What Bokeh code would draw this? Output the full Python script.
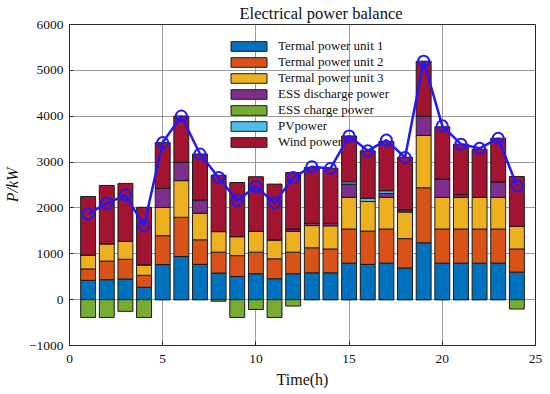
from bokeh.plotting import figure
from bokeh.models import ColumnDataSource, Range1d, FixedTicker, Legend, LegendItem
from bokeh.embed import file_html
from bokeh.resources import INLINE

hours = list(range(1, 25))
thermal1 = [420, 435, 450, 270, 765, 940, 770, 580, 505, 565, 455, 565,
            585, 585, 795, 770, 795, 690, 1240, 795, 795, 795, 795, 600]
thermal2 = [250, 405, 430, 260, 630, 855, 535, 455, 455, 470, 435, 470,
            545, 520, 745, 725, 745, 640, 1200, 745, 745, 745, 745, 505]
thermal3 = [300, 380, 390, 230, 615, 800, 580, 450, 415, 455, 415, 455,
            485, 505, 690, 645, 690, 580, 1140, 690, 690, 690, 690, 495]
ess_discharge = [0, 0, 0, 0, 415, 400, 290, 0, 0, 0, 0, 50,
                 50, 50, 290, 0, 85, 50, 420, 400, 60, 0, 340, 0]
ess_charge = [-390, -390, -255, -390, 0, 0, 0, -35, -390, -215, -390, -140,
              0, 0, 0, 0, 0, 0, 0, 0, 0, 0, 0, -205]
pv_power = [0, 0, 0, 0, 0, 0, 0, 0, 0, 0, 0, 0,
            0, 0, 50, 70, 60, 0, 0, 0, 0, 0, 0, 0]
wind_power = [1280, 1270, 1265, 1255, 1000, 1010, 1000, 1230, 1180, 1190, 1215, 1230,
              1220, 1205, 1000, 1035, 1075, 1145, 1200, 1140, 1100, 1050, 950, 1085]
load = [1870, 2100, 2280, 1615, 3425, 4005, 3175, 2665, 2160, 2465, 2110, 2665,
        2900, 2860, 3570, 3245, 3480, 3100, 5200, 3790, 3390, 3300, 3520, 2485]

names = ["Termal power unit 1", "Termal power unit 2", "Termal power unit 3",
         "ESS discharge power", "ESS charge power", "PVpower", "Wind power"]
colors = ["#0072BD", "#D95319", "#EDB120", "#7E2F8E", "#77AC30", "#4DBEEE", "#A2142F"]
x_ticks = [0, 5, 10, 15, 20, 25]
y_ticks = [-1000, 0, 1000, 2000, 3000, 4000, 5000, 6000]

FONT = "Times New Roman"

src = ColumnDataSource(dict(hour=hours, t1=thermal1, t2=thermal2, t3=thermal3,
                            dis=ess_discharge, chg=ess_charge, pv=pv_power,
                            wind=wind_power, load=load))

p = figure(width=550, height=394, output_backend="svg", toolbar_location=None,
           x_range=Range1d(0, 25), y_range=Range1d(-1000, 6000),
           min_border_left=68, min_border_right=15, min_border_top=23, min_border_bottom=49)

edge = "#1a1a1a"
stack_rs = p.vbar_stack(["t1", "t2", "t3", "dis", "pv", "wind"], x="hour", width=0.8,
                        source=src,
                        fill_color=[colors[0], colors[1], colors[2], colors[3], colors[5], colors[6]],
                        line_color=edge, line_width=1)
chg_r = p.vbar(x="hour", top="chg", bottom=0, width=0.8, source=src,
               fill_color=colors[4], line_color=edge, line_width=1)

line_col = "#2418F8"
p.line("hour", "load", source=src, line_color=line_col, line_width=2.5)
p.scatter("hour", "load", source=src, marker="circle", size=11, fill_alpha=0,
          line_color=line_col, line_width=2)

renderers = [stack_rs[0], stack_rs[1], stack_rs[2], stack_rs[3], chg_r, stack_rs[4], stack_rs[5]]
legend = Legend(items=[LegendItem(label=n, renderers=[r]) for n, r in zip(names, renderers)],
                location=(157, 195), orientation="vertical",
                background_fill_alpha=0, border_line_alpha=0,
                padding=0, margin=0, spacing=0,
                glyph_width=45, glyph_height=12, label_height=14, label_standoff=7,
                label_text_font=FONT, label_text_font_size="13px",
                label_text_color="#111111")
p.add_layout(legend)

xa = p.xaxis[0]
ya = p.yaxis[0]
xa.ticker = FixedTicker(ticks=x_ticks)
ya.ticker = FixedTicker(ticks=y_ticks)
ya.major_label_overrides = {-1000: "\u22121000"}
for ax in (xa, ya):
    ax.major_label_text_font = FONT
    ax.major_label_text_font_size = "13.5px"
    ax.major_label_text_color = "#111111"
    ax.axis_label_text_font = FONT
    ax.axis_label_text_font_size = "16px"
    ax.axis_label_text_color = "#111111"
    ax.axis_label_text_font_style = "normal"
    ax.axis_line_color = "#262626"
    ax.major_tick_line_color = "#262626"
    ax.major_tick_in = 4
    ax.major_tick_out = 0
    ax.minor_tick_line_color = None
xa.axis_label = "Time(h)"
ya.axis_label = "P/kW"
ya.axis_label_text_font_style = "italic"
xa.major_label_standoff = 9
xa.axis_label_standoff = 5
ya.major_label_standoff = 6
ya.axis_label_standoff = 5

p.xgrid.ticker = FixedTicker(ticks=x_ticks)
p.ygrid.ticker = FixedTicker(ticks=y_ticks)
p.grid.grid_line_color = "#9a9a9a"
p.grid.grid_line_width = 1
p.outline_line_color = "#262626"
p.outline_line_alpha = 1

p.title.text = "Electrical power balance"
p.title.text_font = FONT
p.title.text_font_size = "16.5px"
p.title.text_font_style = "normal"
p.title.align = "left"
p.title.offset = 170
p.title.standoff = 3
p.title.text_color = "#111111"

open("out.html", "w").write(file_html(p, INLINE))
